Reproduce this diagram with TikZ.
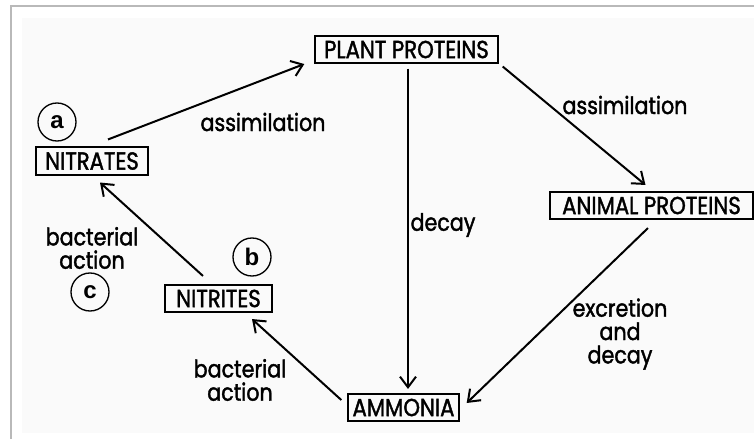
\documentclass[tikz,border=0pt]{standalone}
\usepackage{fontspec}
\setmainfont{Poppins}[FakeStretch=0.86,FakeBold=1.6]
\newfontfamily\circfont{Liberation Sans}
\usetikzlibrary{calc,arrows.meta}

\begin{document}
\begin{tikzpicture}[x=0.75pt,y=-0.75pt,
  box/.style={draw,line width=1.3pt,inner sep=0pt,minimum height=20.5pt,font=\fontsize{18.5}{20}\selectfont},
  lbl/.style={align=center,font=\fontsize{18}{17.5}\selectfont},
  tag/.style={draw,circle,line width=1pt,minimum size=28.5pt,inner sep=0pt,font=\circfont\bfseries\fontsize{18}{18}\selectfont},
  arr/.style={line width=1.5pt,-{Straight Barb[length=8pt,width=12pt,line width=1.5pt]}}]
  \useasboundingbox (0,0) rectangle (754,439);
  \fill[gray!4] (22,18) rectangle (754,433);
  \draw[gray!55,line width=1.5pt] (11,439) -- (11,6) -- (754,6);
  % substances
  \node[box,minimum width=137pt] (plant) at (406.5,49.5) {PLANT PROTEINS};
  \node[box,minimum width=152pt] (animal) at (651.5,205.5) {ANIMAL PROTEINS};
  \node[box,minimum width=83pt] (ammonia) at (403.5,407.5) {AMMONIA};
  \node[box,minimum width=80pt] (nitrites) at (218.5,298.5) {NITRITES};
  \node[box,minimum width=84pt] (nitrates) at (92,161) {NITRATES};
  % cycle
  \draw[arr] ($(nitrates.north)+(16,-7)$) -- ($(plant.south west)+(-10,0)$);
  \draw[arr] ($(plant.south east)+(4,2.5)$) -- ($(animal.north)+(-6,-6)$);
  \draw[arr] ($(plant.south)+(1.5,4.5)$) -- ($(ammonia.north)+(4.5,-4)$);
  \draw[arr] ($(animal.south)+(-3.5,8)$) -- ($(ammonia.east)+(7,-4.5)$);
  \draw[arr] ($(ammonia.west)+(-6,-7.5)$) -- ($(nitrites.south)+(33.5,6)$);
  \draw[arr] ($(nitrites.north)+(-15.5,-8)$) -- ($(nitrates.south)+(8,7)$);
  \node[lbl] (as1) at (263,122) {assimilation};
  \node[lbl] (as2) at (625,105) {assimilation};
  \node[lbl] (dec) at (443,225) {decay};
  \node[lbl] (ex) at (620,334) {excretion\\and\\decay};
  \node[lbl] (ba1) at (240,380) {bacterial\\action};
  \node[lbl] (ba2) at (92,248) {bacterial\\action};
  \node[tag] (ta) at (57,122) {a};
  \node[tag] (tb) at (252,257) {b};
  \node[tag] (tc) at (90,292) {c};
\end{tikzpicture}
\end{document}
